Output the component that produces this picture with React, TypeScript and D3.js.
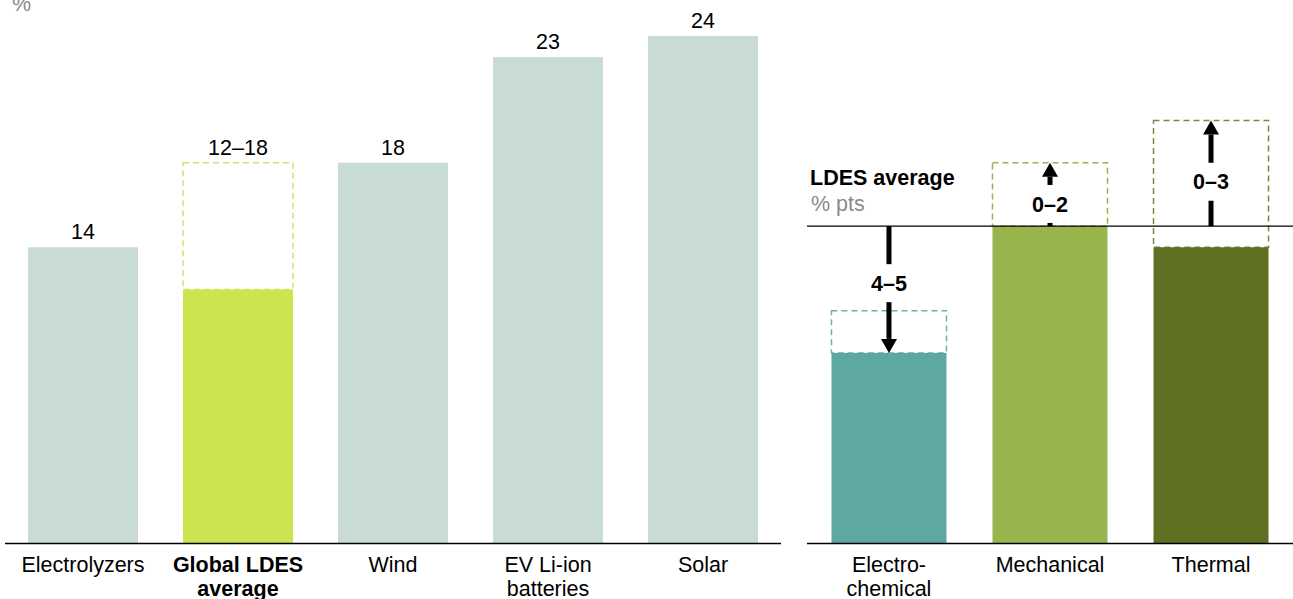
import React from 'react';
import * as d3 from 'd3';

const leftCategories = ['Electrolyzers', 'Global LDES\naverage', 'Wind', 'EV Li-ion\nbatteries', 'Solar'];
const leftValues = [14, 12, 18, 23, 24];
const leftHigh = [null, 18, null, null, null];
const leftLabels = ['14', '12–18', '18', '23', '24'];
const leftBold = [false, true, false, false, false];

const rightCategories = ['Electro-\nchemical', 'Mechanical', 'Thermal'];
const rightValues = [9, 15, 14];
const rightRangeEnd = [11, 18, 20];
const rightArrowTarget = [9, 18, 20];
const rightDeltaLabels = ['4–5', '0–2', '0–3'];
const ldesAverage = 15;

const W = 1293;
const H = 599;
const FONT = '"Liberation Sans", Arial, sans-serif';
const leftColors = ['#c8dbd5', '#cde350', '#c8dbd5', '#c8dbd5', '#c8dbd5'];
const leftDash = [null, '#cfe36a', null, null, null];
const rightColors = ['#5ea8a2', '#98b44c', '#607023'];
const rightDash = ['#6fb1aa', '#98b44c', '#7b8a3a'];
const labelFrac = [0.45, 0.35, 0.42];

export default function App() {
  const y = d3.scaleLinear().domain([0, 24]).range([543, 36]);
  const xL = d3.scaleBand<string>().domain(leftCategories).range([5, 781]).paddingInner(45 / 155).paddingOuter(23 / 155);
  const xR = d3.scaleBand<string>().domain(rightCategories).range([807, 1293]).paddingInner(46 / 161).paddingOuter(0.152);
  const base = y(0);
  const yAvg = y(ldesAverage);

  const catLabel = (txt: string, cx: number, bold: boolean, key: string) => (
    <text key={key} x={cx} y={572} textAnchor="middle" fontSize={21.5} fontWeight={bold ? 'bold' : 'normal'} fill="#000">
      {txt.split('\n').map((l, i) => (
        <tspan key={i} x={cx} dy={i === 0 ? 0 : 23.5}>{l}</tspan>
      ))}
    </text>
  );

  return (
    <svg width={W} height={H} style={{ position: 'absolute', left: 0, top: 0, background: '#fff' }} fontFamily={FONT}>
      <text x={12} y={11} fontSize={21.5} fill="#8a8a8a">%</text>

      {leftCategories.map((c, i) => {
        const x0 = xL(c)!;
        const bw = xL.bandwidth();
        const hi = leftHigh[i];
        const topY = hi != null ? y(hi) : y(leftValues[i]);
        return (
          <g key={c}>
            {hi != null && (
              <rect x={x0} y={y(hi)} width={bw} height={y(leftValues[i]) - y(hi)} fill="none"
                stroke={leftDash[i]!} strokeWidth={1.5} strokeDasharray="6,4" />
            )}
            <rect x={x0} y={y(leftValues[i])} width={bw} height={base - y(leftValues[i])} fill={leftColors[i]} />
            <text x={x0 + bw / 2} y={topY - 8} textAnchor="middle" fontSize={21.5} fill="#000">{leftLabels[i]}</text>
            {catLabel(c, x0 + bw / 2, leftBold[i], 'l' + i)}
          </g>
        );
      })}
      <line x1={5} x2={781} y1={base + 0.5} y2={base + 0.5} stroke="#000" strokeWidth={1.5} />

      {rightCategories.map((c, i) => {
        const x0 = xR(c)!;
        const bw = xR.bandwidth();
        const top = Math.max(rightRangeEnd[i], rightValues[i]);
        const bot = Math.min(rightRangeEnd[i], rightValues[i]);
        const barTop = y(rightValues[i]);
        return (
          <g key={c}>
            <rect x={x0} y={y(top)} width={bw} height={Math.max(0, y(bot) - y(top))} fill="none"
              stroke={rightDash[i]} strokeWidth={1.5} strokeDasharray="6,4" />
            <rect x={x0} y={barTop} width={bw} height={base - barTop} fill={rightColors[i]} />
            {catLabel(c, x0 + bw / 2, false, 'r' + i)}
          </g>
        );
      })}
      <line x1={807} x2={1293} y1={yAvg} y2={yAvg} stroke="#000" strokeWidth={1.2} />

      {rightCategories.map((c, i) => {
        const cx = xR(c)! + xR.bandwidth() / 2;
        const tipY = y(rightArrowTarget[i]);
        const dir = tipY > yAvg ? 1 : -1;
        const labelY = yAvg + (tipY - yAvg) * labelFrac[i];
        const headLen = 14;
        const headW = 8;
        const baseY = tipY - dir * headLen;
        const gapNear = labelY - dir * 19;
        const gapFar = labelY + dir * 19;
        return (
          <g key={'a' + i}>
            <line x1={cx} x2={cx} y1={yAvg} y2={gapNear} stroke="#000" strokeWidth={5} />
            {dir * (baseY - gapFar) > 0 && (
              <line x1={cx} x2={cx} y1={gapFar} y2={baseY} stroke="#000" strokeWidth={5} />
            )}
            <path d={`M${cx - headW},${baseY} L${cx + headW},${baseY} L${cx},${tipY} Z`} fill="#000" />
            <text x={cx} y={labelY + 7.6} textAnchor="middle" fontSize={21.5} fontWeight="bold" fill="#000">
              {rightDeltaLabels[i]}
            </text>
          </g>
        );
      })}

      <text x={810} y={185} fontSize={21.5} fontWeight="bold" fill="#000">LDES average</text>
      <text x={811} y={211} fontSize={21.5} fill="#8a8a8a">% pts</text>
      <line x1={807} x2={1293} y1={base + 0.5} y2={base + 0.5} stroke="#000" strokeWidth={1.5} />
    </svg>
  );
}
